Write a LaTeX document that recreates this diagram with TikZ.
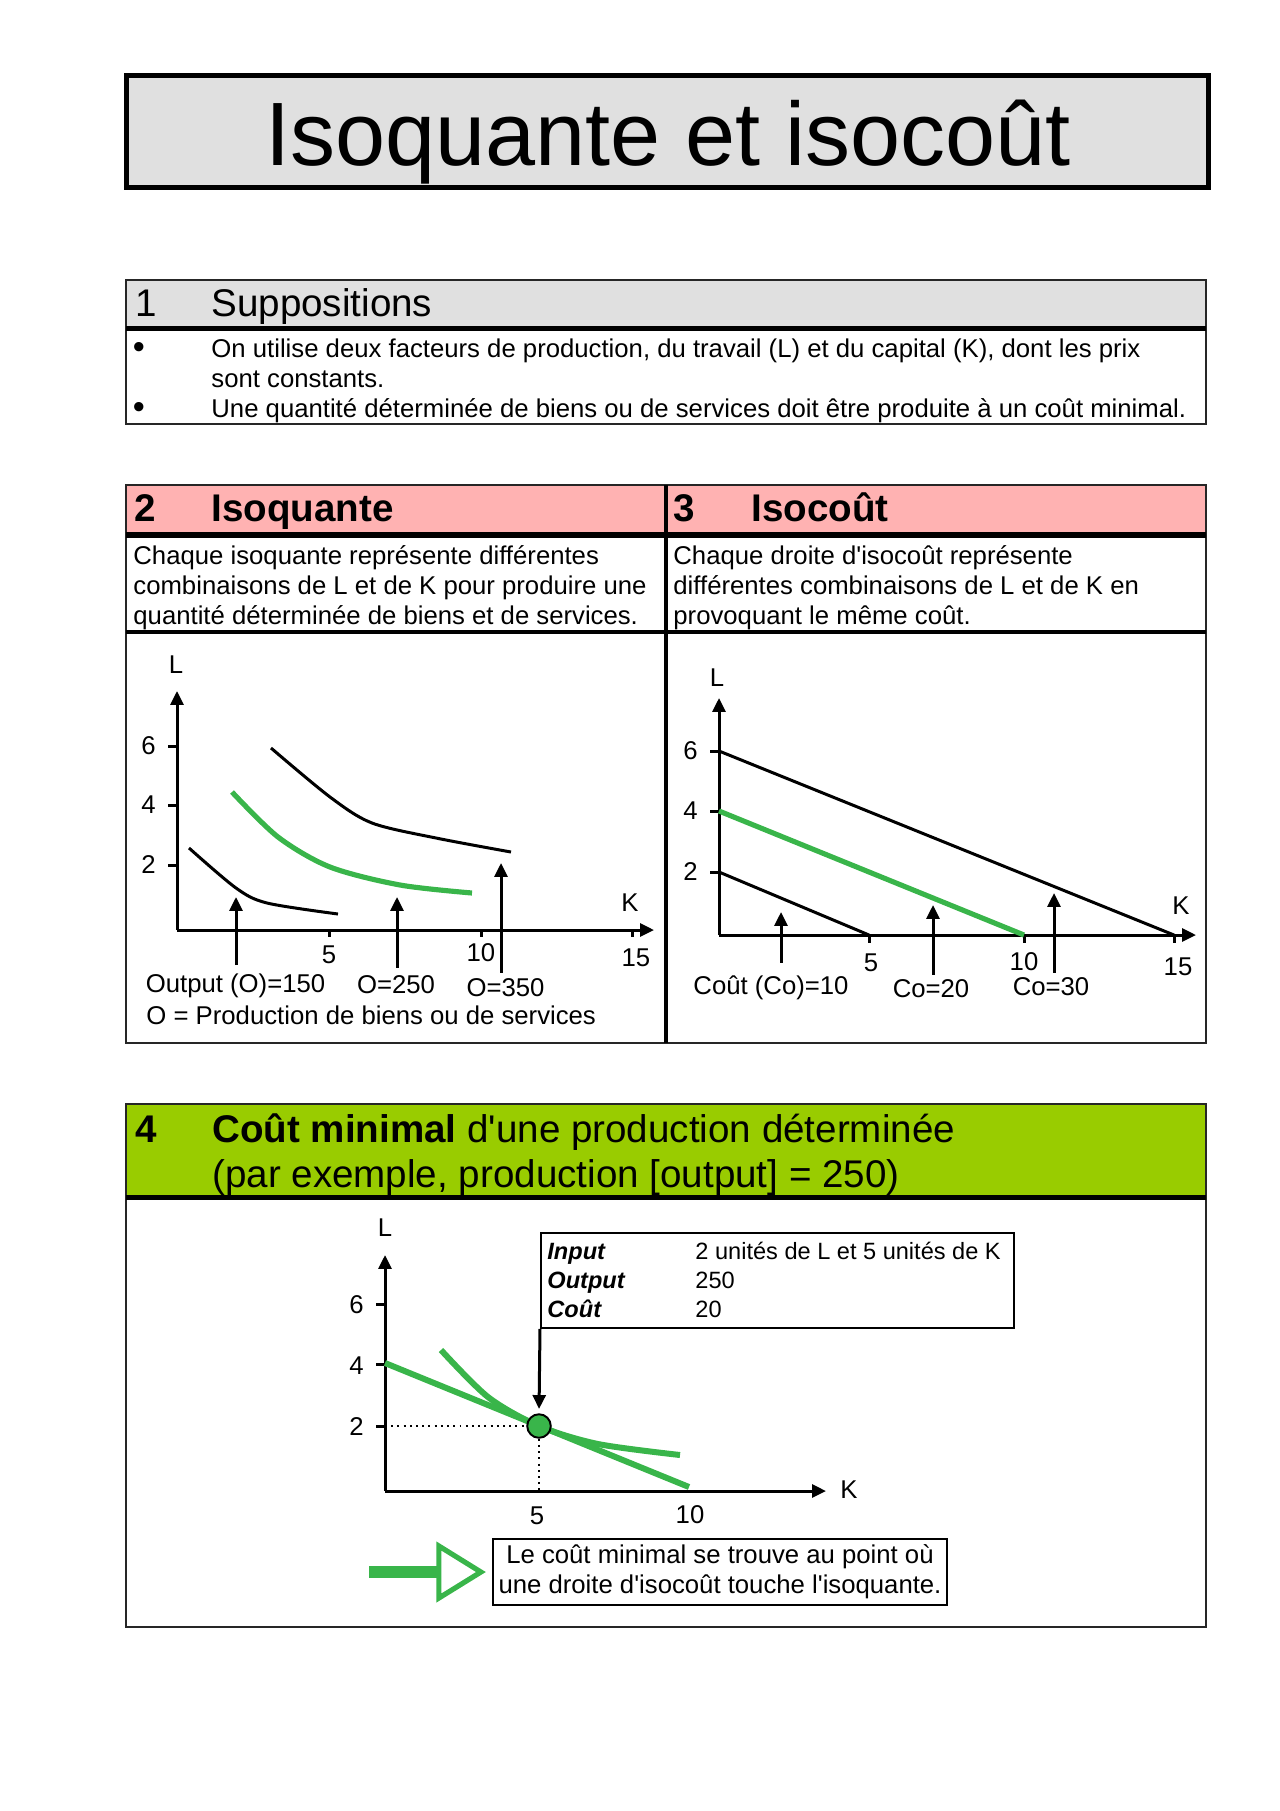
\documentclass[tikz,border=0pt]{standalone}
\usepackage{fontspec}
\setmainfont{Liberation Sans}[Ligatures=TeXOff]
\usepackage{tikz}
\usetikzlibrary{arrows.meta,positioning,calc}
\definecolor{titlegray}{RGB}{224,224,224}
\definecolor{headpink}{RGB}{255,178,178}
\definecolor{headgreen}{RGB}{153,204,0}
\definecolor{curvegreen}{RGB}{57,181,74}

\begin{document}
\begin{tikzpicture}[
        x=0.01640625cm, y=-0.01640625cm,
        frame/.style={draw=black!85, line width=0.8pt},
        bigtext/.style={font=\fontsize{42}{48}\selectfont, inner sep=0pt},
        head/.style={font=\fontsize{18}{21}\selectfont, inner sep=0pt},
        bhead/.style={font=\fontsize{18}{21}\selectfont\bfseries, inner sep=0pt},
        txt/.style={font=\fontsize{12}{14}\selectfont, inner sep=0pt},
        bullettxt/.style={font=\fontsize{16}{18}\selectfont, inner sep=0pt},
        smalltxt/.style={font=\fontsize{11}{13}\selectfont, inner sep=0pt},
        axis/.style={-{Triangle[length=6.5pt,width=6pt]}, line width=1.4pt},
        tickline/.style={line width=1.4pt},
        curve/.style={line width=1.4pt},
        gcurve/.style={line width=2.4pt, curvegreen},
        pointer/.style={-{Triangle[length=6.5pt,width=6pt]}, line width=1.4pt}
    ]

        \useasboundingbox (0,0) rectangle (1280,1811);

        % Title
        \draw[fill=titlegray, line width=2.6pt] (126.5,75.5) rectangle (1208.5,187.5);
        \node[bigtext, anchor=base] (title) at (668,165) {Isoquante et isocoût};

        % 1 Suppositions
        \fill[titlegray] (126,280) rectangle (1206,327);
        \draw[frame] (126,280) rectangle (1206,424);
        \draw[line width=2.4pt] (126,328.5) -- (1206,328.5);
        \node[head, anchor=base west] (num1) at (135,316) {1};
        \node[head, anchor=base west] (supp) at (211,316) {Suppositions};
        \node[bullettxt, anchor=base] (bul1) at (139,358) {•};
        \node[txt, anchor=base west] (supa) at (211,357) {On utilise deux facteurs de production, du travail (L) et du capital (K), dont les prix};
        \node[txt, anchor=base west] (supb) at (211,387) {sont constants.};
        \node[bullettxt, anchor=base] (bul2) at (139,418) {•};
        \node[txt, anchor=base west] (supc) at (211,417) {Une quantité déterminée de biens ou de services doit être produite à un coût minimal.};

        % 2 Isoquante / 3 Isocout
        \fill[headpink] (126,485) rectangle (1206,532);
        \draw[frame] (126,485) rectangle (1206,1043);
        \draw[line width=3pt] (126,535) -- (1206,535);
        \draw[line width=1.9pt] (126,632) -- (1206,632);
        \draw[line width=1.8pt] (666,485) -- (666,1043);
        \node[bhead, anchor=base west] (num2) at (134,521) {2};
        \node[bhead, anchor=base west] (isoq) at (211,521) {Isoquante};
        \node[bhead, anchor=base west] (num3) at (673,521) {3};
        \node[bhead, anchor=base west] (isoc) at (751,521) {Isocoût};
        \node[txt, anchor=base west] (desc2a) at (133,564) {Chaque isoquante représente différentes};
        \node[txt, anchor=base west] (desc2b) at (133,594) {combinaisons de L et de K pour produire une};
        \node[txt, anchor=base west] (desc2c) at (133,624) {quantité déterminée de biens et de services.};
        \node[txt, anchor=base west] (desc3a) at (673,564) {Chaque droite d'isocoût représente};
        \node[txt, anchor=base west] (desc3b) at (673,594) {différentes combinaisons de L et de K en};
        \node[txt, anchor=base west] (desc3c) at (673,624) {provoquant le même coût.};

        % Isoquant chart
        \coordinate (o2) at (177,930);
        \draw[axis] (o2) -- ++(0,-239);
        \draw[axis] (o2) -- ++(477,0);
        \draw[tickline] (168,746) -- (177,746);
        \draw[tickline] (168,805) -- (177,805);
        \draw[tickline] (168,865) -- (177,865);
        \draw[tickline] (329,930) -- (329,937);
        \draw[tickline] (481,930) -- (481,937);
        \draw[tickline] (632,930) -- (632,937);
        \node[txt, anchor=east] (q6) at (156,746) {6};
        \node[txt, anchor=east] (q4) at (156,805) {4};
        \node[txt, anchor=east] (q2) at (156,865) {2};
        \node[txt] (q5) at (329,955) {5};
        \node[txt] (q10) at (481,953) {10};
        \node[txt] (q15) at (636,958) {15};
        \node[txt] (ql) at (176,665) {L};
        \node[txt] (qk) at (630,903) {K};
        \draw[curve] plot[smooth] coordinates {(189,848) (236,888) (267,903) (338,914)};
        \draw[gcurve] plot[smooth] coordinates {(232,792) (278,837) (330,867) (400,885) (472,893)};
        \draw[curve] plot[smooth] coordinates {(271,748) (330,797) (372,823) (436,838) (511,852)};
        \coordinate (p150) at (236,897);
        \coordinate (p250) at (397,897);
        \coordinate (p350) at (501,863);
        \node[txt] (o150) at (235.5,986) {Output (O)=150};
        \node[txt] (o250) at (396,985) {O=250};
        \node[txt] (o350) at (505.5,988) {O=350};
        \node[txt, anchor=west] (odef) at (146,1015) {O = Production de biens ou de services};
        \draw[pointer, shorten <=4pt] (o150.north -| p150) -- (p150);
        \draw[pointer, shorten <=3.6pt] (o250.north -| p250) -- (p250);
        \draw[pointer, shorten <=2.7pt] (o350.north -| p350) -- (p350);

        % Isocost chart
        \coordinate (o3) at (719,935);
        \draw[axis] (o3) -- ++(0,-237);
        \draw[axis] (o3) -- ++(477,0);
        \draw[tickline] (710,751) -- (719,751);
        \draw[tickline] (710,811) -- (719,811);
        \draw[tickline] (710,872) -- (719,872);
        \draw[tickline] (869,935) -- (869,943);
        \draw[tickline] (1024,935) -- (1024,943);
        \draw[tickline] (1174,935) -- (1174,943);
        \node[txt, anchor=east] (c6) at (698,751) {6};
        \node[txt, anchor=east] (c4) at (698,811) {4};
        \node[txt, anchor=east] (c2) at (698,872) {2};
        \node[txt] (c5) at (871,963) {5};
        \node[txt] (c10) at (1024,962) {10};
        \node[txt] (c15) at (1178,967) {15};
        \node[txt] (cl) at (717,678) {L};
        \node[txt] (ck) at (1181,906) {K};
        \draw[curve] (719,872) -- (869,935);
        \draw[gcurve] (719,811) -- (1024,935);
        \draw[curve] (719,751) -- (1174,935);
        \coordinate (pc10) at (781,912);
        \coordinate (pc20) at (933,905);
        \coordinate (pc30) at (1054,893);
        \node[txt] (co10) at (771,988) {Coût (Co)=10};
        \node[txt] (co20) at (931,989) {Co=20};
        \node[txt] (co30) at (1051,987) {Co=30};
        \draw[pointer, shorten <=5.9pt] (co10.north -| pc10) -- (pc10);
        \draw[pointer, shorten <=2.2pt] (co20.north -| pc20) -- (pc20);
        \draw[pointer, shorten <=2.2pt] (co30.north -| pc30) -- (pc30);

        % 4 Cout minimal
        \fill[headgreen] (126,1104) rectangle (1206,1195);
        \draw[frame] (126,1104) rectangle (1206,1627);
        \draw[line width=2.4pt] (126,1197.5) -- (1206,1197.5);
        \node[bhead, anchor=base west] (num4) at (135,1142.5) {4};
        \node[head, anchor=base west] (minia) at (212,1142.5) {\textbf{Coût minimal} d'une production déterminée};
        \node[head, anchor=base west] (minib) at (212,1187) {(par exemple, production [output] = 250)};

        % Minimum cost chart
        \coordinate (o4) at (385,1491);
        \draw[axis] (o4) -- ++(0,-236);
        \draw[axis] (o4) -- ++(441,0);
        \draw[tickline] (376,1304) -- (385,1304);
        \draw[tickline] (376,1364) -- (385,1364);
        \draw[tickline] (376,1426) -- (385,1426);
        \node[txt, anchor=east] (m6) at (364,1305) {6};
        \node[txt, anchor=east] (m4) at (364,1366) {4};
        \node[txt, anchor=east] (m2) at (364,1427) {2};
        \node[txt] (m5) at (537,1516) {5};
        \node[txt] (m10) at (690,1515) {10};
        \node[txt] (ml) at (385,1228) {L};
        \node[txt] (mk) at (849,1490) {K};
        \draw[line width=2.8pt, curvegreen] (385,1363) -- (689,1487);
        \draw[line width=2.8pt, curvegreen] plot[smooth] coordinates {(441,1350) (488,1397) (539,1426) (598,1444) (680,1455)};
        \node[circle, draw, line width=0.9pt, fill=curvegreen, minimum size=11pt, inner sep=0pt] (opt) at (539,1426) {};
        \draw[dotted, line width=0.9pt] (opt -| o4) -- (opt.west);
        \draw[dotted, line width=0.9pt] (opt.south) -- (opt |- o4);

        % Input / output box
        \node[draw, line width=0.9pt, minimum width=220.8pt, minimum height=44.3pt, anchor=north west, inner sep=0pt] (info) at (540,1232) {};
        \node[smalltxt, anchor=base west] (inl) at (547,1259) {\textbf{\textit{Input}}};
        \node[smalltxt, anchor=base west] (inv) at (695,1259) {2 unités de L et 5 unités de K};
        \node[smalltxt, anchor=base west] (outl) at (547,1288) {\textbf{\textit{Output}}};
        \node[smalltxt, anchor=base west] (outv) at (695,1288) {250};
        \node[smalltxt, anchor=base west] (costl) at (547,1317) {\textbf{\textit{Coût}}};
        \node[smalltxt, anchor=base west] (costv) at (695,1317) {20};
        \draw[pointer, shorten >=2pt] (info.south west) -- (opt.north);

        % Note with green arrow
        \node[txt, draw, line width=0.9pt, align=center, minimum width=212pt, minimum height=31pt] (note) at (720,1572) {Le coût minimal se trouve au point où\\une droite d'isocoût touche l'isoquante.};
        \coordinate (tip) at ($(note.west)+(-11,0)$);
        \fill[curvegreen] ($(tip)+(-112,-6)$) rectangle ($(tip)+(-40,6)$);
        \draw[curvegreen, line width=2.4pt, fill=white] ($(tip)+(-42,-26)$) -- (tip) -- ($(tip)+(-42,26)$) -- cycle;

    \end{tikzpicture}
\end{document}
